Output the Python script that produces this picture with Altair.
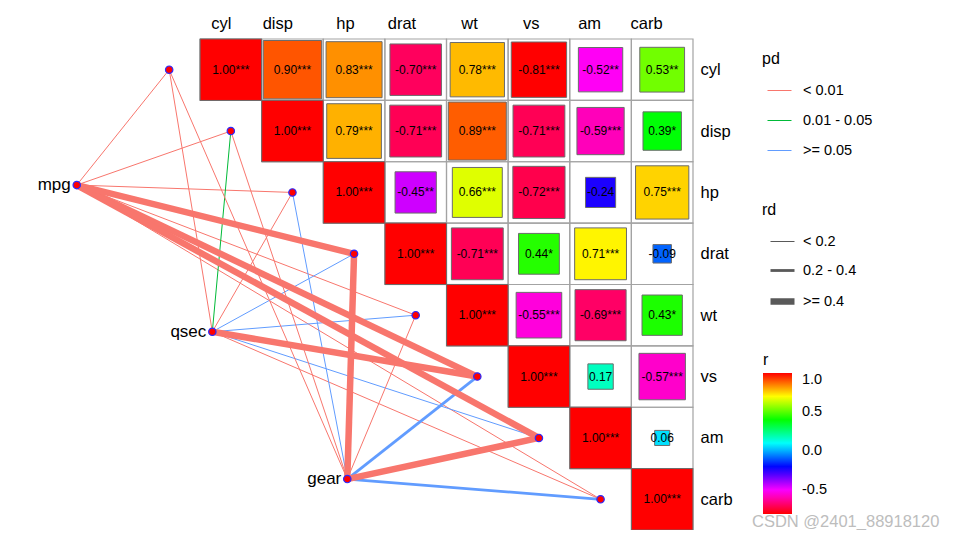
import altair as alt
import pandas as pd

# ---------------- data ----------------
variables = ["cyl", "disp", "hp", "drat", "wt", "vs", "am", "carb"]

# upper triangle (incl. diagonal), row by row, starting at the diagonal
r_rows = [
    [1.00, 0.90, 0.83, -0.70, 0.78, -0.81, -0.52, 0.53],
    [1.00, 0.79, -0.71, 0.89, -0.71, -0.59, 0.39],
    [1.00, -0.45, 0.66, -0.72, -0.24, 0.75],
    [1.00, -0.71, 0.44, 0.71, -0.09],
    [1.00, -0.55, -0.69, 0.43],
    [1.00, 0.17, -0.57],
    [1.00, 0.06],
    [1.00],
]
star_rows = [
    ["***", "***", "***", "***", "***", "***", "**", "**"],
    ["***", "***", "***", "***", "***", "***", "*"],
    ["***", "**", "***", "***", "", "***"],
    ["***", "***", "*", "***", ""],
    ["***", "***", "***", "*"],
    ["***", "", "***"],
    ["***", ""],
    ["***"],
]

env_names = ["mpg", "qsec", "gear"]
env_x = [-2.5, -0.3, 1.89]
env_y = [1.88, 4.27, 6.67]

pd_levels = ["< 0.01", "0.01 - 0.05", ">= 0.05"]
rd_levels = ["< 0.2", "0.2 - 0.4", ">= 0.4"]

pd_by_env = {
    "mpg":  ["< 0.01", "< 0.01", "< 0.01", "< 0.01", "< 0.01", "< 0.01", "< 0.01", "< 0.01"],
    "qsec": ["< 0.01", "0.01 - 0.05", "< 0.01", ">= 0.05", ">= 0.05", "< 0.01", ">= 0.05", "< 0.01"],
    "gear": ["< 0.01", "< 0.01", ">= 0.05", "< 0.01", "< 0.01", ">= 0.05", "< 0.01", ">= 0.05"],
}
rd_by_env = {
    "mpg":  ["< 0.2", "< 0.2", "< 0.2", ">= 0.4", "< 0.2", ">= 0.4", ">= 0.4", "< 0.2"],
    "qsec": ["< 0.2", "< 0.2", "< 0.2", "< 0.2", "< 0.2", ">= 0.4", "< 0.2", "< 0.2"],
    "gear": ["< 0.2", "< 0.2", "< 0.2", ">= 0.4", "< 0.2", "0.2 - 0.4", ">= 0.4", "0.2 - 0.4"],
}

watermark = "CSDN @2401_88918120"

# ---------------- tables ----------------
cells = []
for i, (rs, ss) in enumerate(zip(r_rows, star_rows)):
    for k, (r, s) in enumerate(zip(rs, ss)):
        j = i + k
        cells.append({"x": j, "y": i, "x0": j - 0.5, "x1": j + 0.5,
                      "y0": i - 0.5, "y1": i + 0.5, "r": r, "absr": abs(r),
                      "label": f"{r:.2f}{s}"})
cells = pd.DataFrame(cells)

edges = []
for e, ex, ey in zip(env_names, env_x, env_y):
    for j, v in enumerate(variables):
        edges.append({"x": ex, "y": ey, "x2": j - 1, "y2": j,
                      "pd": pd_by_env[e][j], "rd": rd_by_env[e][j],
                      "w": rd_levels.index(rd_by_env[e][j])})
edges = pd.DataFrame(edges).sort_values("w")

nodes = pd.DataFrame(
    [{"x": j - 1, "y": j, "name": ""} for j, v in enumerate(variables)]
    + [{"x": ex, "y": ey, "name": e} for e, ex, ey in zip(env_names, env_x, env_y)]
)
env_nodes = nodes[nodes["name"] != ""]

# ---------------- scales / axes ----------------
FONT = "Liberation Sans"
names_js = "[" + ",".join(f"'{v}'" for v in variables) + "]"
rd_js = "[" + ",".join(f"'{v}'" for v in rd_levels) + "]"
xs = alt.Scale(domain=[-0.5, 7.5], nice=False, zero=False)
ys = alt.Scale(domain=[-0.5, 7.5], nice=False, zero=False, reverse=True)
xaxis = alt.Axis(orient="top", values=list(range(8)), labelExpr=f"{names_js}[datum.value]",
                 domain=False, ticks=False, grid=False, title=None, labelAlign="right",
                 labelFontSize=16.5, labelColor="black", labelPadding=8, labelFont=FONT,
                 labelFlush=False, labelOverlap=False, labelBound=False)
yaxis = alt.Axis(orient="right", values=list(range(8)), labelExpr=f"{names_js}[datum.value]",
                 domain=False, ticks=False, grid=False, title=None, labelAlign="left",
                 labelBaseline="middle", labelFontSize=16.5, labelColor="black",
                 labelPadding=7, labelFont=FONT, labelFlush=False, labelOverlap=False,
                 labelBound=False)


def X(f):
    return alt.X(f"{f}:Q", scale=xs, axis=xaxis)


def Y(f):
    return alt.Y(f"{f}:Q", scale=ys, axis=yaxis)


hue_domain = [-0.81, -0.5083, -0.2067, 0.095, 0.3967, 0.6983, 1.0]
hue_range = ["#FF0000", "#FF00FF", "#0000FF", "#00FFFF", "#00FF00", "#FFFF00", "#FF0000"]

legend_common = dict(orient="none", labelFontSize=14.5, titleFontSize=16, labelFont=FONT,
                     titleFont=FONT, titleFontWeight="normal", padding=0,
                     labelColor="black", titleColor="black")

grid = alt.Chart(cells).mark_rect(filled=False, stroke="#A3A3A3", strokeWidth=1.2).encode(
    x=X("x0"), x2="x1", y=Y("y0"), y2="y1")

squares = alt.Chart(cells).mark_square(stroke="#6B6B6B", strokeWidth=1, opacity=1).encode(
    x=X("x"), y=Y("y"),
    size=alt.Size("absr:Q", scale=alt.Scale(type="linear", domain=[0, 1], range=[0, 61.5 ** 2]),
                  legend=None),
    fill=alt.Fill("r:Q", scale=alt.Scale(domain=hue_domain, range=hue_range, interpolate="rgb"),
                  legend=alt.Legend(title="r", legendX=563, legendY=313,
                                    gradientLength=141, gradientThickness=29,
                                    values=[1.0, 0.5, 0.0, -0.5],
                                    labelExpr="replace(format(datum.value, '.1f'), '\u2212', '-')",
                                    direction="vertical", gradientStrokeWidth=0,
                                    labelOffset=10, titlePadding=5, **legend_common)),
)

texts = alt.Chart(cells).mark_text(fontSize=12, font=FONT, color="black").encode(
    x=X("x"), y=Y("y"), text="label:N")

links = alt.Chart(edges).mark_rule().encode(
    x=X("x"), y=Y("y"), x2="x2", y2="y2",
    color=alt.Color("pd:N", scale=alt.Scale(domain=pd_levels,
                                            range=["#F8766D", "#00BA38", "#619CFF"]),
                    legend=alt.Legend(title="pd", legendX=562, legendY=12,
                                      symbolType="stroke", symbolSize=576,
                                      symbolStrokeWidth=1, symbolOffset=5, labelOffset=11,
                                      rowPadding=11, titlePadding=11, **legend_common)),
    strokeWidth=alt.StrokeWidth("w:Q", scale=alt.Scale(domain=[0, 1, 2], range=[1, 2.8, 6.5]),
                                legend=alt.Legend(title="rd", legendX=562, legendY=163,
                                                  values=[0, 1, 2],
                                                  labelExpr=f"{rd_js}[datum.value]",
                                                  symbolType="stroke", symbolSize=576,
                                                  symbolStrokeColor="#595959",
                                                  symbolOffset=5, labelOffset=5,
                                                  rowPadding=9, titlePadding=11,
                                                  **legend_common)),
    order=alt.Order("w:Q"),
)

points = alt.Chart(nodes).mark_circle(size=55, fill="#FF0000", stroke="#2B2BFF",
                                      strokeWidth=1.2, opacity=1).encode(x=X("x"), y=Y("y"))

env_labels = alt.Chart(env_nodes).mark_text(align="right", baseline="middle", dx=-6,
                                            fontSize=17, font=FONT, color="black").encode(
    x=X("x"), y=Y("y"), text="name:N")

wm = alt.Chart(pd.DataFrame({"t": [watermark]})).mark_text(
    align="left", baseline="middle", fontSize=16.5, font=FONT, color="#BDBDBD").encode(
    x=alt.value(552), y=alt.value(483), text="t:N")

chart = alt.layer(grid, squares, texts, links, points, env_labels, wm).resolve_scale(
    color="independent", fill="independent"
).properties(
    width=493, height=491,
    padding={"left": 192, "top": 31, "right": 250, "bottom": 0},
    autosize=alt.AutoSizeParams(type="none"),
).configure(font=FONT, background="white").configure_view(stroke=None).configure_axis(
    domain=False, grid=False, ticks=False
)

chart.save("out.html", embed_options={"renderer": "svg", "actions": False})
